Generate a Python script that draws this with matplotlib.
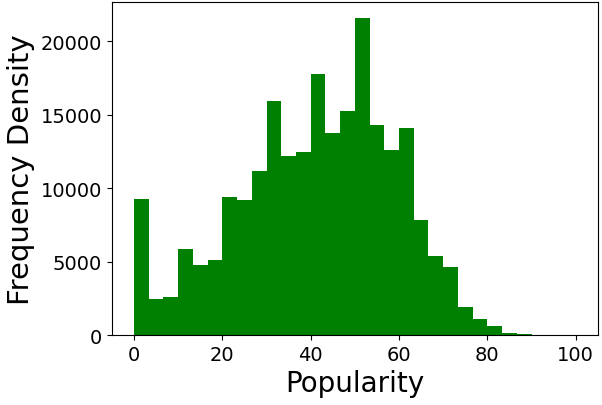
import numpy as np
import matplotlib.pyplot as plt

# histogram of popularity, 30 bins from 0 to 100
bin_edges = np.linspace(0, 100, 31)
counts = [9290, 2440, 2620, 5870, 4780, 5100, 9380, 9220, 11200, 15910,
          12180, 12480, 17740, 13770, 15280, 21600, 14320, 12610, 14110, 7850,
          5400, 4620, 1890, 1070, 615, 180, 90, 30, 10, 4]

fig, ax = plt.subplots(figsize=(6.02, 4.06), dpi=100)
fig.subplots_adjust(left=0.186, right=0.993, top=0.993, bottom=0.172)

ax.hist(bin_edges[:-1], bins=bin_edges, weights=counts, color='green')
ax.set_xlabel('Popularity', fontsize=20)
ax.set_ylabel('Frequency Density', fontsize=21)
ax.tick_params(labelsize=14)

fig.savefig('out.png')
